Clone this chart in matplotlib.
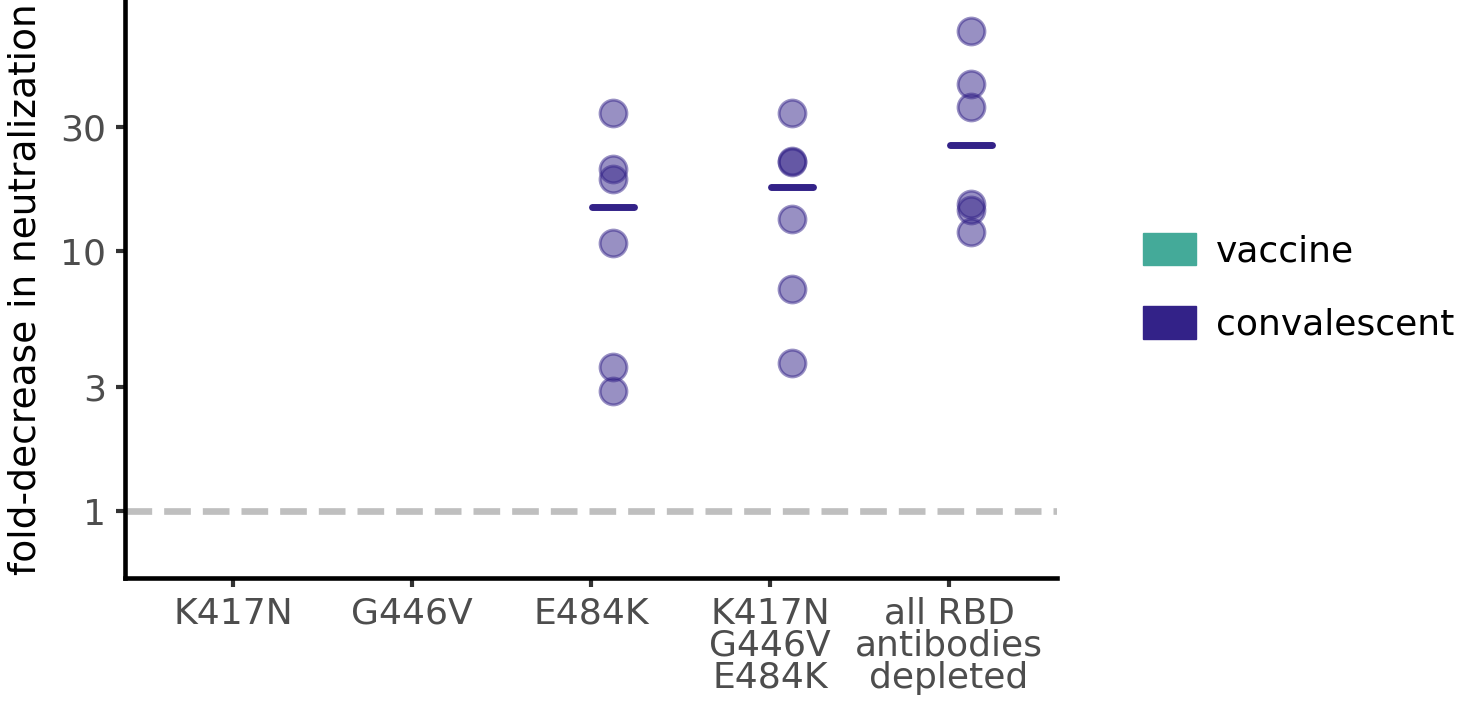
import numpy as np
import matplotlib.pyplot as plt
from matplotlib.patches import Patch

categories = ["K417N", "G446V", "E484K", "K417N\nG446V\nE484K",
              "all RBD\nantibodies\ndepleted"]
groups = ["vaccine", "convalescent"]
colors = {"vaccine": "#44AA99", "convalescent": "#332288"}

# convalescent fold-decrease values per category (vaccine has none)
conv_values = {
    "E484K": [33.9, 20.6, 18.9, 10.7, 3.57, 2.90],
    "K417N\nG446V\nE484K": [33.9, 22.2, 21.9, 13.2, 7.14, 3.72],
    "all RBD\nantibodies\ndepleted": [69.8, 43.8, 35.7, 15.1, 14.4, 11.8],
}

fig = plt.figure(figsize=(14.58, 7.06), dpi=100)
ax = fig.add_axes([0.0857, 0.181, 0.6393, 0.819])

offset = 0.123
half_w = 0.118
for i, cat in enumerate(categories):
    vals = conv_values.get(cat)
    if not vals:
        continue
    x = i + offset
    ax.scatter([x] * len(vals), vals, s=370, color=colors["convalescent"],
               alpha=0.5, edgecolors=colors["convalescent"], linewidths=2.2,
               zorder=3)
    med = np.median(vals)
    ax.plot([x - half_w, x + half_w], [med, med], color=colors["convalescent"],
            lw=5, solid_capstyle="round", zorder=4)

ax.axhline(1, color="#bfbfbf", lw=4.8, dashes=(4.0, 1.8),
           dash_capstyle="butt", zorder=1)

ax.set_yscale("log")
ax.set_ylim(0.552, 92)
ax.set_xlim(-0.603, 4.603)
ax.set_yticks([1, 3, 10, 30])
ax.set_yticklabels(["1", "3", "10", "30"])
ax.minorticks_off()
ax.set_xticks(range(len(categories)))
ax.set_xticklabels(categories, linespacing=0.92)

ax.tick_params(axis="both", labelsize=26, colors="#333333",
               labelcolor="#4d4d4d", length=6.5, width=3, pad=7)
ax.set_ylabel("fold-decrease in neutralization", fontsize=27, color="black",
              labelpad=12)

for s in ["top", "right"]:
    ax.spines[s].set_visible(False)
for s in ["left", "bottom"]:
    ax.spines[s].set_linewidth(3.3)

handles = [Patch(facecolor=colors[g], edgecolor=colors[g], label=g)
           for g in groups]
fig.legend(handles=handles, loc="center left", bbox_to_anchor=(0.784, 0.593),
           frameon=False, fontsize=26, handlelength=1.47, handleheight=1.0,
           labelspacing=1.05, handletextpad=0.55, borderpad=0,
           borderaxespad=0)

fig.savefig("out.png", dpi=100)
